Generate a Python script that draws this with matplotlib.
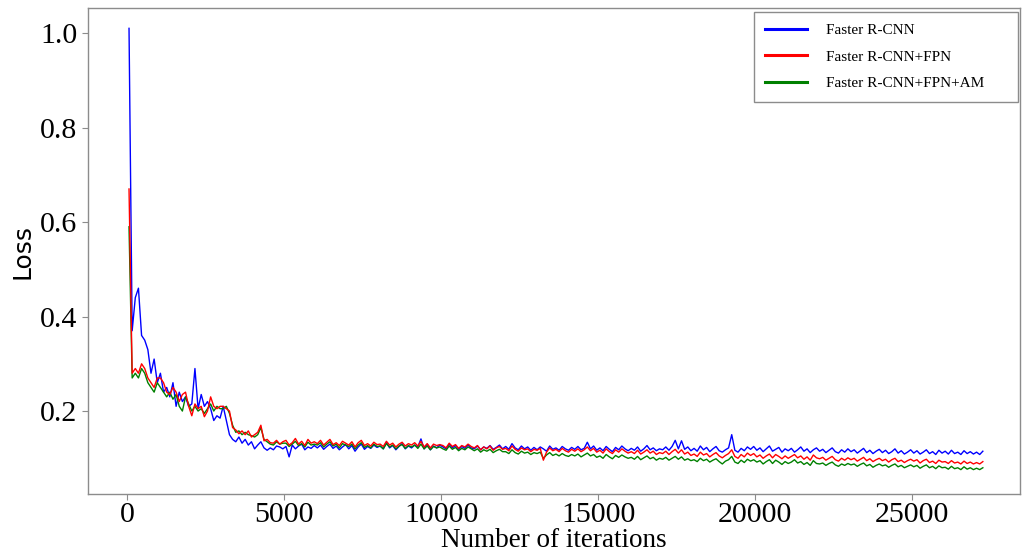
import matplotlib.pyplot as plt
from matplotlib.lines import Line2D

# iterations: 50, 150, ..., 27250 (one value every 100 iterations)
iters = list(range(50, 27300, 100))

loss_frcnn = [
    1.01, 0.37, 0.44, 0.46, 0.36, 0.35, 0.33, 0.28, 0.31, 0.26,
    0.28, 0.24, 0.25, 0.23, 0.26, 0.21, 0.24, 0.22, 0.23, 0.21,
    0.215, 0.29, 0.205, 0.235, 0.21, 0.22, 0.205, 0.18, 0.19, 0.185,
    0.21, 0.18, 0.15, 0.14, 0.135, 0.145, 0.132, 0.14, 0.128, 0.135,
    0.12, 0.128, 0.135, 0.122, 0.117, 0.122, 0.118, 0.126, 0.124, 0.12,
    0.125, 0.103, 0.128, 0.12, 0.126, 0.13, 0.118, 0.124, 0.121, 0.127,
    0.122, 0.128, 0.119, 0.125, 0.13, 0.121, 0.126, 0.118, 0.124, 0.129,
    0.12, 0.127, 0.115, 0.124, 0.13, 0.119, 0.125, 0.121, 0.128, 0.123,
    0.126, 0.12, 0.134, 0.122, 0.127, 0.118, 0.125, 0.131, 0.12, 0.126,
    0.122, 0.128, 0.124, 0.141, 0.12, 0.13, 0.118, 0.126, 0.122, 0.128,
    0.124, 0.12, 0.13, 0.122, 0.127, 0.119, 0.125, 0.121, 0.128, 0.122,
    0.12, 0.126, 0.118, 0.124, 0.121, 0.127, 0.119, 0.123, 0.128, 0.12,
    0.125, 0.119, 0.131, 0.122, 0.118, 0.126, 0.12, 0.124, 0.117, 0.123,
    0.118, 0.124, 0.12, 0.115, 0.126, 0.119, 0.122, 0.117, 0.125, 0.12,
    0.117, 0.123, 0.119, 0.125, 0.118, 0.121, 0.134, 0.12, 0.126, 0.117,
    0.122, 0.116, 0.125, 0.119, 0.114, 0.123, 0.118, 0.126, 0.12, 0.116,
    0.121, 0.117, 0.124, 0.115, 0.12, 0.127, 0.118, 0.122, 0.116, 0.12,
    0.118, 0.124, 0.117, 0.125, 0.138, 0.12, 0.137, 0.119, 0.124, 0.116,
    0.121, 0.115, 0.126, 0.118, 0.123, 0.114, 0.12, 0.125, 0.116, 0.113,
    0.118, 0.122, 0.15, 0.117, 0.113, 0.121, 0.116, 0.124, 0.119, 0.125,
    0.117, 0.122, 0.114, 0.12, 0.126, 0.115, 0.119, 0.123, 0.113, 0.12,
    0.116, 0.121, 0.113, 0.118, 0.124, 0.115, 0.12, 0.112, 0.118, 0.122,
    0.115, 0.119, 0.112, 0.117, 0.122, 0.114, 0.111, 0.118, 0.113, 0.12,
    0.114, 0.118, 0.111, 0.116, 0.121, 0.112, 0.117, 0.11, 0.115, 0.119,
    0.112, 0.117, 0.11, 0.114, 0.12, 0.111, 0.116, 0.109, 0.113, 0.118,
    0.111, 0.116, 0.109, 0.113, 0.118, 0.11, 0.114, 0.108, 0.117, 0.111,
    0.115, 0.109, 0.117, 0.11, 0.113, 0.108, 0.116, 0.11, 0.114, 0.109,
    0.113, 0.108, 0.115,
]

loss_fpn = [
    0.67, 0.28, 0.29, 0.28, 0.30, 0.29, 0.27, 0.26, 0.25, 0.27,
    0.27, 0.26, 0.24, 0.235, 0.25, 0.24, 0.22, 0.235, 0.24, 0.21,
    0.19, 0.215, 0.205, 0.21, 0.188, 0.2, 0.23, 0.21, 0.205, 0.21,
    0.21, 0.205, 0.2, 0.165, 0.16, 0.152, 0.158, 0.15, 0.158, 0.145,
    0.15, 0.155, 0.17, 0.137, 0.14, 0.133, 0.132, 0.138, 0.13, 0.135,
    0.138, 0.128, 0.133, 0.142, 0.13, 0.136, 0.127, 0.14, 0.132, 0.135,
    0.131, 0.138, 0.128, 0.134, 0.14, 0.129, 0.133, 0.127, 0.136, 0.132,
    0.128, 0.135, 0.124, 0.133, 0.138, 0.127, 0.131, 0.126, 0.134, 0.129,
    0.13, 0.125, 0.136, 0.128, 0.132, 0.124, 0.13, 0.134, 0.126, 0.131,
    0.128, 0.133, 0.126, 0.136, 0.124, 0.131, 0.122, 0.13, 0.127, 0.129,
    0.127, 0.122, 0.132, 0.125, 0.129, 0.121, 0.127, 0.124, 0.13, 0.125,
    0.122, 0.127, 0.118, 0.124, 0.12, 0.126, 0.117, 0.122, 0.125, 0.119,
    0.121, 0.116, 0.126, 0.119, 0.115, 0.122, 0.118, 0.12, 0.114, 0.119,
    0.117, 0.121, 0.096, 0.113, 0.122, 0.116, 0.119, 0.114, 0.121, 0.116,
    0.113, 0.119, 0.115, 0.12, 0.114, 0.118, 0.124, 0.116, 0.121, 0.113,
    0.117, 0.111, 0.12, 0.114, 0.11, 0.118, 0.113, 0.12, 0.115, 0.111,
    0.114, 0.11, 0.117, 0.109, 0.113, 0.118, 0.111, 0.115, 0.108, 0.112,
    0.11, 0.115, 0.108, 0.114, 0.119, 0.111, 0.118, 0.109, 0.113, 0.106,
    0.109, 0.104, 0.113, 0.107, 0.11, 0.103, 0.108, 0.112, 0.105, 0.101,
    0.106, 0.11, 0.118, 0.104, 0.1, 0.108, 0.103, 0.111, 0.106, 0.11,
    0.103, 0.107, 0.1, 0.105, 0.109, 0.101, 0.108, 0.104, 0.099, 0.105,
    0.1, 0.104, 0.108, 0.101, 0.105, 0.098, 0.103, 0.096, 0.107, 0.101,
    0.099, 0.102, 0.096, 0.1, 0.104, 0.097, 0.094, 0.1, 0.096, 0.101,
    0.097, 0.1, 0.094, 0.098, 0.102, 0.095, 0.099, 0.093, 0.097, 0.1,
    0.095, 0.098, 0.092, 0.097, 0.1, 0.093, 0.096, 0.091, 0.095, 0.098,
    0.094, 0.097, 0.09, 0.095, 0.098, 0.091, 0.094, 0.089, 0.096, 0.092,
    0.093, 0.089, 0.095, 0.09, 0.092, 0.088, 0.094, 0.089, 0.092, 0.088,
    0.091, 0.088, 0.093,
]

loss_fpn_am = [
    0.59, 0.27, 0.28, 0.27, 0.29, 0.28, 0.26, 0.25, 0.24, 0.26,
    0.25, 0.24, 0.23, 0.24, 0.225, 0.235, 0.21, 0.2, 0.23, 0.215,
    0.2, 0.21, 0.2, 0.205, 0.195, 0.205, 0.215, 0.2, 0.21, 0.205,
    0.205, 0.21, 0.195, 0.17, 0.155, 0.158, 0.15, 0.155, 0.15, 0.148,
    0.145, 0.15, 0.165, 0.14, 0.135, 0.13, 0.128, 0.135, 0.13, 0.132,
    0.132, 0.125, 0.13, 0.136, 0.127, 0.131, 0.124, 0.134, 0.128, 0.13,
    0.128, 0.133, 0.124, 0.13, 0.135, 0.126, 0.13, 0.122, 0.131, 0.128,
    0.125, 0.13, 0.12, 0.128, 0.133, 0.123, 0.127, 0.122, 0.13, 0.125,
    0.126, 0.12, 0.131, 0.124, 0.128, 0.12, 0.126, 0.129, 0.121, 0.127,
    0.124, 0.128, 0.121, 0.13, 0.12, 0.126, 0.118, 0.125, 0.122, 0.124,
    0.12, 0.117, 0.126, 0.119, 0.123, 0.116, 0.121, 0.118, 0.124, 0.12,
    0.116, 0.12, 0.113, 0.118, 0.115, 0.119, 0.112, 0.116, 0.119, 0.114,
    0.114, 0.11, 0.118, 0.112, 0.109, 0.115, 0.111, 0.113, 0.108, 0.112,
    0.11, 0.113, 0.1, 0.107, 0.112, 0.106, 0.109, 0.105, 0.11, 0.106,
    0.104, 0.108, 0.105, 0.109, 0.103, 0.107, 0.111, 0.105, 0.108, 0.102,
    0.105, 0.1, 0.108, 0.103, 0.099, 0.106, 0.102, 0.107, 0.103, 0.1,
    0.102, 0.098, 0.104, 0.097, 0.101, 0.105, 0.099, 0.102, 0.096, 0.1,
    0.098, 0.102, 0.096, 0.1, 0.104, 0.098, 0.103, 0.096, 0.099, 0.095,
    0.097, 0.093, 0.1, 0.095, 0.098, 0.092, 0.096, 0.099, 0.093, 0.088,
    0.094, 0.097, 0.104, 0.092, 0.089, 0.096, 0.091, 0.098, 0.094, 0.097,
    0.092, 0.095, 0.088, 0.093, 0.097, 0.089, 0.096, 0.092, 0.087, 0.093,
    0.089, 0.092, 0.097, 0.09, 0.093, 0.087, 0.091, 0.085, 0.095, 0.089,
    0.088, 0.09, 0.085, 0.089, 0.092, 0.086, 0.083, 0.088, 0.085, 0.089,
    0.086, 0.088, 0.083, 0.087, 0.09, 0.084, 0.087, 0.081, 0.085, 0.088,
    0.084, 0.086, 0.081, 0.085, 0.088, 0.082, 0.085, 0.08, 0.083, 0.086,
    0.082, 0.085, 0.079, 0.083, 0.086, 0.08, 0.083, 0.078, 0.084, 0.08,
    0.081, 0.077, 0.083, 0.078, 0.08, 0.076, 0.082, 0.077, 0.08, 0.076,
    0.079, 0.076, 0.08,
]

labels = ['Faster R-CNN', 'Faster R-CNN+FPN', 'Faster R-CNN+FPN+AM']
colors = ['#0000ff', '#ff0000', '#008000']

serif = 'Liberation Serif'

fig = plt.figure(figsize=(10.3, 5.57), dpi=100)
ax = fig.add_axes([0.0854, 0.113, 0.9046, 0.8726])

ax.plot(iters, loss_frcnn, color=colors[0], lw=1.0, zorder=2)
ax.plot(iters, loss_fpn_am, color=colors[2], lw=1.0, zorder=3)
ax.plot(iters, loss_fpn, color=colors[1], lw=1.0, zorder=4)

ax.set_xlim(-1258, 28424)
ax.set_ylim(0.0243, 1.053)
ax.set_xticks([0, 5000, 10000, 15000, 20000, 25000])
ax.set_yticks([0.2, 0.4, 0.6, 0.8, 1.0])

for s in ax.spines.values():
    s.set_color('#8c8c8c')
    s.set_linewidth(1.0)
ax.tick_params(colors='#8c8c8c', length=4, width=0.8, labelcolor='black')
ax.tick_params(axis='x', pad=1.5)
for t in ax.get_xticklabels() + ax.get_yticklabels():
    t.set_fontfamily(serif)
    t.set_fontsize(21.5)

ax.set_xlabel('Number of iterations', fontfamily=serif, fontsize=19.5, labelpad=0)
ax.set_ylabel('Loss', fontfamily='DejaVu Sans', fontsize=18, labelpad=4)

# legend box stretched to the width seen in the reference
handles = [Line2D([], [], color=c, lw=2.2) for c in colors]
leg = ax.legend(handles, labels, loc='upper left',
                bbox_to_anchor=(0.7146, 0.0, 0.2833, 0.992), mode='expand',
                borderaxespad=0.0, fancybox=False, framealpha=1,
                prop={'family': serif, 'size': 11}, handlelength=2.75,
                handletextpad=1.2, labelspacing=0.85, borderpad=0.75)
leg.get_frame().set_edgecolor('#8c8c8c')
leg.get_frame().set_linewidth(1.0)

fig.savefig('out.png', dpi=100)
